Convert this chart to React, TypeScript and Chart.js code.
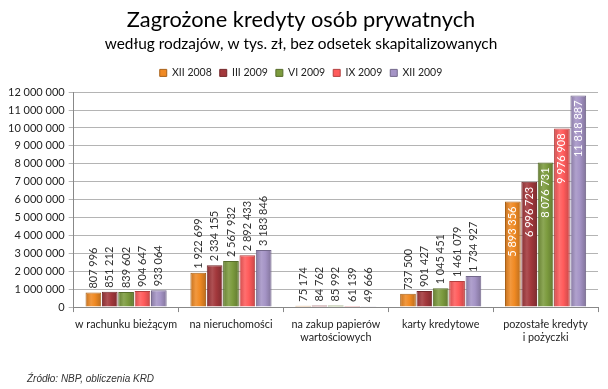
import React, { useEffect, useRef } from "react";
import { Chart, registerables } from "chart.js";

Chart.register(...registerables);

const categories: string[][] = [
  ["w rachunku bieżącym"],
  ["na nieruchomości"],
  ["na zakup papierów", "wartościowych"],
  ["karty kredytowe"],
  ["pozostałe kredyty", "i pożyczki"],
];
const seriesLabels = ["XII 2008", "III 2009", "VI 2009", "IX 2009", "XII 2009"];
const xii2008 = [807996, 1922699, 75174, 737500, 5893356];
const iii2009 = [851212, 2334155, 84762, 901427, 6996723];
const vi2009 = [839602, 2567932, 85992, 1045451, 8076731];
const ix2009 = [904647, 2892433, 61139, 1461079, 9976908];
const xii2009 = [933064, 3183846, 49666, 1734927, 11818887];
const seriesColors = ["#F08A24", "#A3383C", "#7C9B3E", "#FF5B5B", "#A594C6"];
const yTicksMax = 12000000;
const yStep = 1000000;
const titleText = "Zagrożone kredyty osób prywatnych";
const subtitleText = "według rodzajów, w tys. zł, bez odsetek skapitalizowanych";
const sourceText = "Źródło: NBP, obliczenia KRD";

const FONT = "Lato, 'Open Sans', sans-serif";

function fmt(v: number): string {
  return String(v).replace(/\B(?=(\d{3})+(?!\d))/g, " ");
}

function shade(hex: string, f: number): string {
  const n = parseInt(hex.slice(1), 16);
  let r = (n >> 16) & 255, g = (n >> 8) & 255, b = n & 255;
  if (f < 0) {
    r = Math.round(r * (1 + f)); g = Math.round(g * (1 + f)); b = Math.round(b * (1 + f));
  } else {
    r = Math.round(r + (255 - r) * f); g = Math.round(g + (255 - g) * f); b = Math.round(b + (255 - b) * f);
  }
  return `rgb(${r},${g},${b})`;
}

const legendSpacePlugin = {
  id: "legendSpace",
  beforeInit(chart: any) {
    const legend = chart.legend;
    if (!legend) return;
    const origFit = legend.fit;
    legend.fit = function () {
      origFit.call(this);
      this.height += 4;
    };
  },
};

const gradientPlugin = {
  id: "barGradient",
  beforeDatasetsDraw(chart: any) {
    const ctx = chart.ctx;
    chart.data.datasets.forEach((ds: any, di: number) => {
      const meta = chart.getDatasetMeta(di);
      const base = seriesColors[di];
      meta.data.forEach((el: any) => {
        const half = el.width / 2;
        const g = ctx.createLinearGradient(el.x - half, 0, el.x + half, 0);
        g.addColorStop(0, shade(base, -0.18));
        g.addColorStop(0.35, shade(base, 0.12));
        g.addColorStop(0.6, base);
        g.addColorStop(1, shade(base, -0.22));
        el.options = Object.assign({}, el.options, {
          backgroundColor: g,
          borderColor: shade(base, -0.3),
        });
      });
    });
  },
};

const labelPlugin = {
  id: "barLabels",
  afterDatasetsDraw(chart: any) {
    const ctx = chart.ctx;
    ctx.save();
    ctx.font = `11px ${FONT}`;
    ctx.textBaseline = "middle";
    chart.data.datasets.forEach((ds: any, di: number) => {
      const meta = chart.getDatasetMeta(di);
      meta.data.forEach((el: any, i: number) => {
        const v = ds.data[i] as number;
        const txt = fmt(v);
        ctx.save();
        ctx.translate(el.x, el.y);
        ctx.rotate(-Math.PI / 2);
        if (v > 5000000) {
          ctx.fillStyle = "#ffffff";
          ctx.textAlign = "right";
          ctx.fillText(txt, -5, 0);
        } else {
          ctx.fillStyle = "#333333";
          ctx.textAlign = "left";
          ctx.fillText(txt, 4, 0);
        }
        ctx.restore();
      });
    });
    ctx.restore();
  },
};

const sourcePlugin = {
  id: "sourceNote",
  afterDraw(chart: any) {
    const ctx = chart.ctx;
    ctx.save();
    ctx.font = `italic 10px 'Liberation Sans Narrow', 'Liberation Sans', sans-serif`;
    ctx.fillStyle = "#333333";
    ctx.textAlign = "left";
    ctx.textBaseline = "middle";
    ctx.fillText(sourceText, 27, 379);
    ctx.restore();
  },
};

export default function App() {
  const ref = useRef<HTMLCanvasElement | null>(null);
  useEffect(() => {
    document.body.style.margin = "0";
    const canvas = ref.current;
    if (!canvas) return;
    const series = [xii2008, iii2009, vi2009, ix2009, xii2009];
    const chart = new Chart(canvas, {
      type: "bar",
      data: {
        labels: categories,
        datasets: series.map((d, i) => ({
          label: seriesLabels[i],
          data: d,
          backgroundColor: seriesColors[i],
          borderColor: shade(seriesColors[i], -0.3),
          borderWidth: 1,
          categoryPercentage: 0.78,
          barPercentage: 0.96,
        })),
      },
      options: {
        responsive: false,
        animation: false,
        layout: { padding: { left: 4, right: 10, top: 0, bottom: 39 } },
        plugins: {
          title: {
            display: true,
            text: titleText,
            color: "#000000",
            font: { family: FONT, size: 21.8, weight: "normal" },
            padding: { top: 7, bottom: 0 },
          },
          subtitle: {
            display: true,
            text: subtitleText,
            color: "#000000",
            font: { family: FONT, size: 15.4, weight: "normal" },
            padding: { top: 2, bottom: 6 },
          },
          legend: {
            display: true,
            position: "top",
            labels: {
              boxWidth: 7,
              boxHeight: 7,
              padding: 8,
              color: "#222222",
              font: { family: FONT, size: 10.5 },
            },
          },
          tooltip: { enabled: false },
        },
        scales: {
          x: {
            grid: {
              display: true,
              drawOnChartArea: false,
              offset: true,
              tickLength: 5,
              color: "#888888",
            },
            border: { color: "#888888" },
            ticks: {
              color: "#222222",
              font: { family: FONT, size: 10.8 },
              maxRotation: 0,
              autoSkip: false,
              padding: 6,
            },
          },
          y: {
            min: 0,
            max: yTicksMax,
            grid: { color: "#B4B4B4", tickLength: 5 },
            border: { color: "#888888" },
            ticks: {
              stepSize: yStep,
              color: "#222222",
              font: { family: FONT, size: 11 },
              padding: 4,
              callback: (v: any) => fmt(Number(v)),
            },
          },
        },
      },
      plugins: [legendSpacePlugin, gradientPlugin, labelPlugin, sourcePlugin],
    });
    return () => chart.destroy();
  }, []);
  return <canvas ref={ref} width={608} height={389} style={{ display: "block" }} />;
}
